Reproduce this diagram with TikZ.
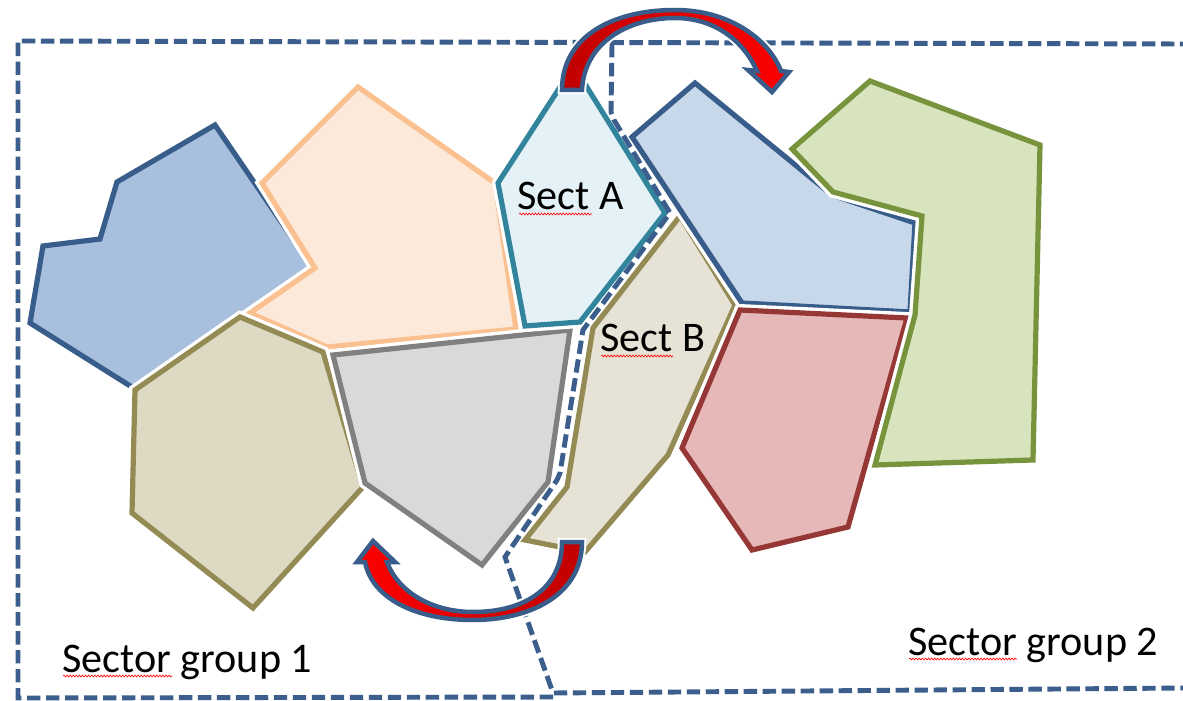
\documentclass[tikz,border=0pt]{standalone}
\usepackage{fontspec}
\setmainfont{Carlito}
\usetikzlibrary{decorations.pathmorphing}

\definecolor{dashblue}{RGB}{59,94,140}
\definecolor{blueline}{RGB}{56,93,138}
\definecolor{bluefillA}{RGB}{168,191,222}
\definecolor{bluefillB}{RGB}{200,216,235}
\definecolor{peachfill}{RGB}{253,233,217}
\definecolor{peachline}{RGB}{250,192,144}
\definecolor{olivefill}{RGB}{221,217,195}
\definecolor{oliveline}{RGB}{148,138,84}
\definecolor{sandfill}{RGB}{230,226,213}
\definecolor{grayfill}{RGB}{217,217,217}
\definecolor{grayline}{RGB}{128,128,128}
\definecolor{tealfill}{RGB}{228,242,247}
\definecolor{tealline}{RGB}{49,132,155}
\definecolor{redfill}{RGB}{230,184,183}
\definecolor{redline}{RGB}{149,55,53}
\definecolor{greenfill}{RGB}{215,228,189}
\definecolor{greenline}{RGB}{119,147,60}
\definecolor{arrowdark}{RGB}{192,0,0}
\definecolor{arrowbright}{RGB}{255,0,0}

\tikzset{
  sector/.style={line width=3.7pt, line join=miter,
    preaction={draw=white, line width=8.5pt, line join=miter}},
  groupline/.style={draw=dashblue, line width=3.5pt, dash pattern=on 9.5pt off 4pt},
  bendarrow/.style={draw=blueline, line width=3.2pt, line join=miter,
    preaction={draw=white, line width=6pt}},
  sectortext/.style={inner sep=0pt, anchor=base west, text=black,
    font=\fontsize{30}{36}\selectfont},
  spell/.style={draw=red, line width=0.45pt, decorate,
    decoration={snake, amplitude=0.7pt, segment length=2.2pt}}
}

\begin{document}
\begin{tikzpicture}[x=0.025cm, y=-0.025cm]
\useasboundingbox[fill=white] (0,0) rectangle (1183,701);

% sectors of group 1
\draw[sector, draw=blueline, fill=bluefillA]
  (215,125) -- (312,267) -- (135,389) -- (30,323) -- (43,246) -- (100,239) -- (117,182) -- cycle;
\draw[sector, draw=peachline, fill=peachfill]
  (358,87) -- (495,183) -- (516,329) -- (327,347) -- (250,313) -- (315,268) -- (262,183) -- cycle;
\draw[sector, draw=oliveline, fill=olivefill]
  (240,317) -- (323,352) -- (363,487) -- (253,608) -- (132,513) -- (135,390) -- cycle;
\draw[sector, draw=grayline, fill=grayfill]
  (333,355) -- (570,330) -- (548,482) -- (482,565) -- (365,483) -- cycle;
\draw[sector, draw=tealline, fill=tealfill]
  (562,84) -- (585,84) -- (665,213) -- (580,322) -- (525,326) -- (498,183) -- cycle;

% sectors of group 2
\draw[sector, draw=oliveline, fill=sandfill]
  (680,216) -- (735,305) -- (668,455) -- (585,552) -- (525,540) -- (567,487) -- (593,328) -- cycle;
\draw[sector, draw=blueline, fill=bluefillB]
  (695,83) -- (832,195) -- (915,223) -- (910,312) -- (742,303) -- (632,137) -- cycle;
\draw[sector, draw=redline, fill=redfill]
  (740,310) -- (907,318) -- (848,527) -- (752,550) -- (682,448) -- cycle;
\draw[sector, draw=greenline, fill=greenfill]
  (870,81) -- (1040,145) -- (1033,460) -- (875,465) -- (915,315) -- (922,216) -- (833,192) -- (792,149) -- cycle;

% group boundaries
\draw[groupline] (553,697) -- (18,698) -- (18,41) -- (1183,44);
\draw[groupline] (612,44) -- (611,112) -- (614,120) -- (670,213) -- (583,330)
  -- (560,473) -- (557,480) -- (505,557) -- (553,693) -- (1183,688);

% labels
\node[sectortext] (sa) at (517,210) {Sect A};
\node[sectortext] (sb) at (600,352) {Sect B};
\node[sectortext] (g1) at (62,672) {Sector group 1};
\node[sectortext] (g2) at (908,655) {Sector group 2};
\draw[spell] (519,214) -- (592,214);
\draw[spell] (601,356) -- (673,356);
\draw[spell] (63,676) -- (172,676);
\draw[spell] (909,659) -- (1017,659);

% exchange arrows
\path[bendarrow, left color=arrowdark, right color=arrowbright]
  (562,90) .. controls (562,35) and (615,10) .. (675,10)
  .. controls (728,10) and (768,38) .. (781,71)
  -- (789,72) -- (772,92) -- (748,70) -- (757,71)
  .. controls (742,38) and (712,18) .. (675,18)
  .. controls (625,18) and (584,45) .. (582,90) -- cycle;
\path[bendarrow, left color=arrowbright, right color=arrowdark]
  (582,542) .. controls (582,595) and (530,620) .. (473,620)
  .. controls (415,620) and (372,598) .. (365,562)
  -- (357,562) -- (373,541) -- (395,562) -- (387,562)
  .. controls (398,592) and (432,612) .. (473,612)
  .. controls (525,612) and (562,588) .. (562,542) -- cycle;
\end{tikzpicture}
\end{document}
